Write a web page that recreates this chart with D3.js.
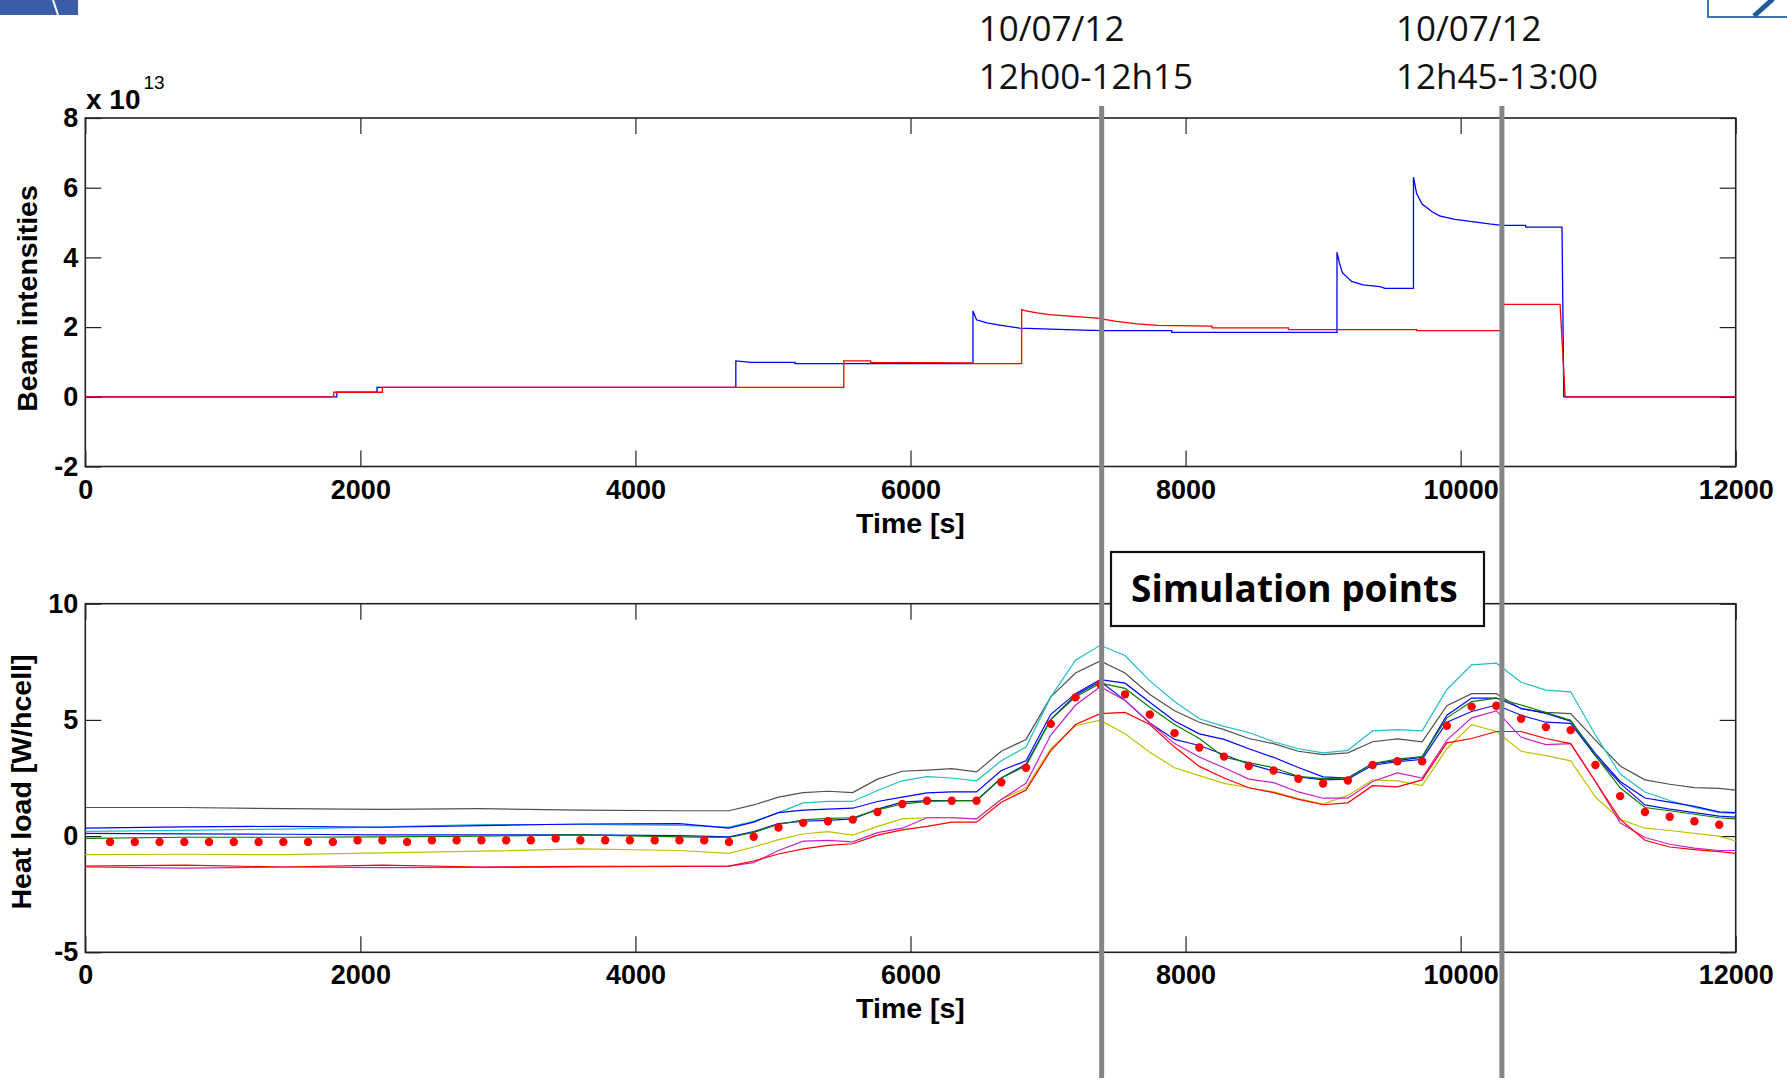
<!DOCTYPE html>
<html>
<head>
<meta charset="utf-8">
<script src="https://cdn.jsdelivr.net/npm/d3@7"></script>
<style>
  body { margin: 0; background: #fff; }
  svg text { font-family: "Liberation Sans", Arial, sans-serif; }
</style>
</head>
<body>
<svg id="chart" width="1787" height="1081"></svg>
<script>
// ---- data ----
// beam intensities (units of 1e13), [time s, value]
var beamBlue = [[0,0],[1829,0],[1829,0.13],[2121,0.13],[2121,0.27],[4730,0.27],[4730,1.03],[4840,0.99],[5160,0.99],[5160,0.95],
  [6454,0.95],[6454,2.46],[6480,2.21],[6555,2.12],[6660,2.05],[6793,1.97],[7190,1.92],[7400,1.90],[7900,1.90],[7900,1.85],
  [9101,1.85],[9101,4.15],[9118,3.85],[9140,3.56],[9207,3.31],[9290,3.21],[9414,3.16],[9450,3.11],[9657,3.11],[9657,6.30],
  [9680,5.83],[9720,5.53],[9792,5.31],[9847,5.19],[9958,5.09],[10097,5.02],[10208,4.96],[10300,4.92],[10473,4.92],[10473,4.87],
  [10737,4.87],[10750,0],[12000,0]];
var beamRed = [[0,0],[1806,0],[1806,0.13],[2160,0.13],[2160,0.27],[5515,0.27],[5515,1.03],[5710,1.03],[5710,0.99],[6450,0.97],
  [6460,0.95],[6808,0.95],[6808,2.50],[6830,2.47],[6920,2.41],[7010,2.36],[7180,2.31],[7355,2.26],[7485,2.17],[7645,2.09],
  [7800,2.05],[8193,2.03],[8193,1.98],[8748,1.98],[8748,1.93],[9680,1.93],[9680,1.90],[10300,1.90],[10300,2.65],[10723,2.65],
  [10760,0],[12000,0]];

// heat load curves (W/hcell), sampled at heatTime
var heatTime = [0,720,1440,2160,2880,3600,4320,4680,4860,5040,5220,5400,5580,5760,5940,6120,6300,6480,6660,6840,7020,7200,
  7380,7560,7740,7920,8100,8280,8460,8640,8820,9000,9180,9360,9540,9720,9900,10080,10260,10440,10620,10800,10980,11160,
  11340,11520,11700,11880,12000];
var heatGrey = [1.23,1.23,1.18,1.15,1.18,1.12,1.09,1.09,1.34,1.68,1.87,1.93,1.87,2.45,2.79,2.84,2.90,2.76,3.65,4.16,5.99,7.02,
  7.54,7.02,6.09,5.39,4.90,4.58,4.20,3.98,3.65,3.51,3.58,4.06,4.18,4.06,5.61,6.13,6.13,5.47,5.32,5.27,4.13,3.02,2.42,2.23,2.09,2.05,1.98];
var heatCyan = [0.20,0.25,0.30,0.40,0.50,0.50,0.46,0.39,0.64,1.01,1.43,1.49,1.49,1.96,2.38,2.56,2.50,2.38,3.24,3.83,5.99,7.57,
  8.21,7.77,6.68,5.79,5.05,4.72,4.46,4.06,3.76,3.58,3.69,4.53,4.58,4.53,6.31,7.37,7.44,6.62,6.28,6.21,4.35,2.67,1.90,1.53,1.23,1.01,0.98];
var heatBlueA = [0.34,0.40,0.42,0.38,0.45,0.52,0.54,0.34,0.60,1.01,1.12,1.16,1.20,1.49,1.68,1.86,1.90,1.90,2.82,3.24,5.24,6.13,
  6.73,6.58,5.76,4.95,4.40,4.16,3.76,3.39,2.95,2.55,2.50,3.12,3.25,3.40,5.20,5.94,5.94,5.50,5.28,4.95,3.55,2.35,1.64,1.46,1.28,1.04,1.01];
var heatBlueB = [0.12,0.10,0.08,0.05,0.05,0.05,0.02,-0.03,0.19,0.54,0.64,0.68,0.74,1.16,1.46,1.53,1.53,1.53,2.50,3.09,5.02,6.06,
  6.65,5.84,4.87,4.16,3.90,3.50,3.10,2.80,2.55,2.42,2.45,3.05,3.20,3.30,4.90,5.36,5.64,5.20,4.90,4.85,3.45,2.27,1.34,1.16,1.01,0.86,0.82];
var heatGreen = [-0.10,-0.05,-0.05,-0.03,0.00,0.05,-0.03,-0.06,0.16,0.50,0.70,0.76,0.79,1.13,1.38,1.49,1.53,1.53,2.50,3.02,5.02,5.99,
  6.58,6.36,5.54,4.80,4.20,3.39,3.16,2.94,2.57,2.47,2.50,3.12,3.31,3.42,5.09,5.79,5.94,5.64,5.32,4.98,3.46,2.08,1.23,1.09,0.94,0.79,0.74];
var heatYellow = [-0.80,-0.78,-0.80,-0.72,-0.65,-0.55,-0.62,-0.74,-0.47,-0.15,0.09,0.19,0.04,0.42,0.74,0.79,0.79,0.74,1.58,2.08,3.76,4.75,
  4.99,4.40,3.61,2.94,2.60,2.27,2.08,1.90,1.61,1.38,1.75,2.42,2.38,2.17,3.76,4.80,4.50,3.65,3.46,3.24,1.68,0.72,0.34,0.24,0.12,0.00,-0.21];
var heatMagenta = [-1.33,-1.38,-1.33,-1.36,-1.35,-1.33,-1.30,-1.29,-1.14,-0.62,-0.22,-0.18,-0.25,0.15,0.34,0.79,0.79,0.74,1.58,2.27,4.35,5.64,
  6.43,5.84,4.87,3.98,3.40,2.94,2.45,2.30,1.90,1.63,1.63,2.35,2.72,2.50,4.13,5.09,5.39,4.25,3.94,3.98,2.35,0.57,-0.06,-0.35,-0.52,-0.62,-0.62];
var heatRed = [-1.29,-1.25,-1.33,-1.25,-1.33,-1.30,-1.30,-1.29,-1.07,-0.77,-0.55,-0.40,-0.33,0.04,0.27,0.42,0.60,0.60,1.46,1.98,3.68,4.80,
  5.27,5.32,4.80,3.83,3.00,2.50,2.08,1.87,1.58,1.35,1.43,2.17,2.12,2.42,4.01,4.20,4.50,4.50,4.20,3.98,2.35,0.72,-0.18,-0.47,-0.58,-0.67,-0.74];

// simulation points, one every 180 s
var simTime = d3.range(180, 11881, 180);
var simValues = [-0.25,-0.25,-0.25,-0.25,-0.25,-0.25,-0.25,-0.25,-0.25,-0.25,-0.18,-0.18,-0.25,-0.18,-0.18,-0.18,-0.18,-0.18,-0.10,-0.18,
  -0.18,-0.18,-0.18,-0.18,-0.18,-0.25,-0.03,0.37,0.57,0.64,0.71,1.04,1.38,1.52,1.52,1.52,2.32,2.94,4.83,5.97,6.53,6.10,5.23,4.43,
  3.81,3.42,3.02,2.82,2.47,2.26,2.39,3.06,3.22,3.22,4.75,5.57,5.61,5.05,4.69,4.56,3.06,1.72,1.04,0.83,0.64,0.49];

var xTicks = [0,2000,4000,6000,8000,10000,12000];
var beamTicks = [-2,0,2,4,6,8];
var heatTicks = [-5,0,5,10];
var markerTimes = [7390, 10300];
var markerLabels = [["10/07/12","12h00-12h15"],["10/07/12","12h45-13:00"]];

// ---- layout ----
var svg = d3.select('#chart');
var left = 85.3, right = 1735.7;

var x = d3.scaleLinear().domain([0,12000]).range([left,right]);
var yBeam = d3.scaleLinear().domain([-2,8]).range([466.5,118]);
var yHeat = d3.scaleLinear().domain([-5,10]).range([952.3,603.7]);

function fmt(d){ return String(d); }

function drawFrame(y, ticks, yLabel, labelY, labelX){
  var top = y.range()[1], bottom = y.range()[0];
  var g = svg.append('g').attr('class','frame');

  g.append('g').attr('transform','translate(0,' + bottom + ')')
    .call(d3.axisBottom(x).tickValues(xTicks).tickSizeInner(-16).tickSizeOuter(0).tickPadding(13).tickFormat(fmt));
  g.append('g').attr('transform','translate(0,' + top + ')')
    .call(d3.axisTop(x).tickValues(xTicks).tickSizeInner(-16).tickSizeOuter(0).tickFormat(''));
  g.append('g').attr('transform','translate(' + left + ',0)')
    .call(d3.axisLeft(y).tickValues(ticks).tickSizeInner(-16).tickSizeOuter(0).tickPadding(7).tickFormat(fmt));
  g.append('g').attr('transform','translate(' + right + ',0)')
    .call(d3.axisRight(y).tickValues(ticks).tickSizeInner(-16).tickSizeOuter(0).tickFormat(''));

  g.selectAll('.domain').remove();
  g.selectAll('.tick line').attr('stroke','#222').attr('stroke-width',1.2);
  g.selectAll('.tick text').attr('fill','#000').style('font-size','27px').style('font-weight','bold');

  g.append('rect')
    .attr('x',left).attr('y',top).attr('width',right-left).attr('height',bottom-top)
    .attr('fill','none').attr('stroke','#222').attr('stroke-width',1.6);

  g.append('text')
    .attr('x',(left+right)/2).attr('y',bottom + 66)
    .attr('text-anchor','middle')
    .style('font-size','28.5px').style('font-weight','bold')
    .text('Time [s]');

  g.append('text')
    .attr('transform','translate(' + labelX + ',' + labelY + ') rotate(-90)')
    .attr('text-anchor','middle')
    .style('font-size','28.5px').style('font-weight','bold')
    .text(yLabel);
}

// logo fragments at the slide corners
svg.append('rect').attr('x',0).attr('y',0).attr('width',78).attr('height',15).attr('fill','#3a5da8');
svg.append('line').attr('x1',53).attr('y1',0).attr('x2',58).attr('y2',15).attr('stroke','#fff').attr('stroke-width',2);
svg.append('rect').attr('x',1708).attr('y',-4).attr('width',90).attr('height',21)
  .attr('fill','none').attr('stroke','#3d72ad').attr('stroke-width',2);
svg.append('line').attr('x1',1754).attr('y1',16).attr('x2',1773).attr('y2',-1).attr('stroke','#1f5b9a').attr('stroke-width',5);

// ---- top plot: beam intensities ----
drawFrame(yBeam, beamTicks, 'Beam intensities', 298.5, 37);

var exp = svg.append('text').attr('x',86).attr('y',109).style('font-size','28px').style('font-weight','bold');
exp.append('tspan').text('x 10');
exp.append('tspan').attr('dx',3).attr('dy',-20).style('font-size','19px').style('font-weight','normal').text('13');

var beamLine = d3.line().x(function(d){ return x(d[0]); }).y(function(d){ return yBeam(d[1]); });
svg.append('path').datum(beamBlue).attr('d',beamLine).attr('fill','none').attr('stroke','#0000ff').attr('stroke-width',1.3);
svg.append('path').datum(beamRed).attr('d',beamLine).attr('fill','none').attr('stroke','#ff0000').attr('stroke-width',1.3);

// ---- bottom plot: heat load ----
drawFrame(yHeat, heatTicks, 'Heat load [W/hcell]', 782, 31);

var heatSeries = [
  {vals: heatGrey, color: '#505050'},
  {vals: heatCyan, color: '#1fbfc8'},
  {vals: heatBlueA, color: '#0000ff'},
  {vals: heatBlueB, color: '#1010e0'},
  {vals: heatGreen, color: '#008000'},
  {vals: heatYellow, color: '#c0c000'},
  {vals: heatMagenta, color: '#c820c8'},
  {vals: heatRed, color: '#ff0000'}
];
var heatLine = d3.line().x(function(d,i){ return x(heatTime[i]); }).y(function(d){ return yHeat(d); });
svg.append('g').selectAll('path')
  .data(heatSeries).enter().append('path')
  .attr('d',function(s){ return heatLine(s.vals); })
  .attr('fill','none').attr('stroke',function(s){ return s.color; }).attr('stroke-width',1.2);

svg.append('g').selectAll('circle')
  .data(simValues).enter().append('circle')
  .attr('cx',function(d,i){ return x(simTime[i]); })
  .attr('cy',function(d){ return yHeat(d); })
  .attr('r',4.2).attr('fill','#ff0000');

// simulation points box
svg.append('rect').attr('x',1111).attr('y',552).attr('width',373).attr('height',74)
  .attr('fill','#fff').attr('stroke','#111').attr('stroke-width',2.2);
svg.append('text').attr('x',1131).attr('y',602)
  .style('font-family','"Open Sans", sans-serif').style('font-size','37px').style('font-weight','bold')
  .text('Simulation points');

// vertical markers and their dates
var labelOffsets = [-123, -106];
markerTimes.forEach(function(t,i){
  svg.append('line').attr('x1',x(t)).attr('x2',x(t)).attr('y1',106).attr('y2',1078)
    .attr('stroke','#858585').attr('stroke-width',5);
  var lbl = svg.append('text').attr('x',x(t) + labelOffsets[i])
    .style('font-family','"Open Sans", sans-serif').style('font-size','35px').attr('fill','#111');
  markerLabels[i].forEach(function(s,j){
    lbl.append('tspan').attr('x',x(t) + labelOffsets[i]).attr('y',41 + j*48).text(s);
  });
});
</script>
</body>
</html>
